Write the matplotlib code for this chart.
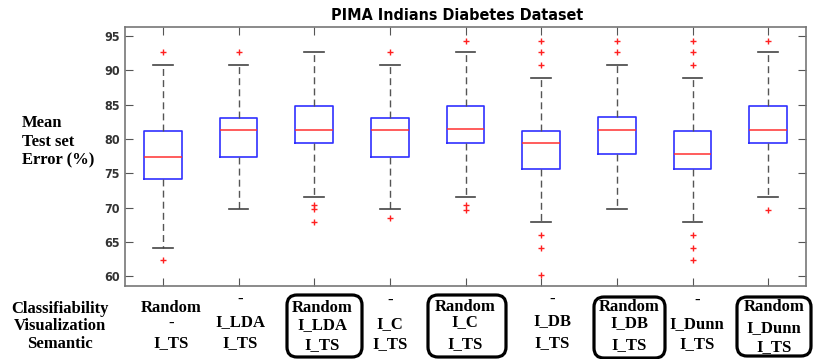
import matplotlib.pyplot as plt
from matplotlib import font_manager
from matplotlib.patches import FancyBboxPatch

# box statistics (mean test set error, %)
q1 = [74.2, 77.4, 79.4, 77.4, 79.4, 75.6, 77.8, 75.6, 79.4]
medians = [77.4, 81.25, 81.25, 81.25, 81.4, 79.4, 81.25, 77.8, 81.25]
q3 = [81.15, 83.1, 84.85, 83.1, 84.85, 81.15, 83.2, 81.15, 84.85]
whis_lo = [64.2, 69.75, 71.6, 69.75, 71.6, 67.9, 69.75, 67.9, 71.6]
whis_hi = [90.78, 90.78, 92.65, 90.78, 92.65, 88.85, 90.78, 88.85, 92.65]
outliers = [
    [92.65, 62.4],
    [92.65],
    [70.4, 69.75, 67.9],
    [92.7, 68.5],
    [94.3, 70.4, 69.65],
    [94.3, 92.65, 90.78, 66.0, 64.1, 60.25],
    [94.3, 92.65],
    [94.3, 92.65, 90.78, 66.0, 64.1, 62.4],
    [94.3, 69.65],
]

# labels under each box
classifiability = ['Random', '-', 'Random', '-', 'Random', '-', 'Random', '-', 'Random']
visualization = ['-', 'I_LDA', 'I_LDA', 'I_C', 'I_C', 'I_DB', 'I_DB', 'I_Dunn', 'I_Dunn']
semantic = ['I_TS'] * 9
highlighted = [2, 4, 6, 8]

# pick a narrow bold sans if one is installed
narrow = None
for f in font_manager.fontManager.ttflist:
    if 'Narrow' in f.name or f.stretch in ('condensed', 'semi-condensed', 600, 500):
        if f.name in ('Liberation Sans Narrow', 'DejaVu Sans', 'Roboto', 'Open Sans'):
            narrow = font_manager.FontProperties(fname=f.fname)
            if 'Bold' in f.fname or f.weight in ('bold', 700):
                break
if narrow is None:
    narrow = font_manager.FontProperties(family='DejaVu Sans', weight='bold')

W, H = 813, 359
fig = plt.figure(figsize=(W / 100, H / 100), dpi=100)
ax = fig.add_axes([125 / W, 1 - 286 / H, 681 / W, 259 / H])

stats = []
for i in range(len(q1)):
    stats.append(dict(q1=q1[i], med=medians[i], q3=q3[i], whislo=whis_lo[i],
                      whishi=whis_hi[i], fliers=outliers[i]))

ax.bxp(stats, positions=range(1, 10), widths=0.5, capwidths=0.26,
       boxprops=dict(color='#3030ff', linewidth=1.2),
       medianprops=dict(color='#ff3030', linewidth=1.1),
       whiskerprops=dict(color='#555555', linewidth=1.0, linestyle=(0, (5, 3))),
       capprops=dict(color='#444444', linewidth=1.2),
       flierprops=dict(marker='+', markeredgecolor='#ff2020', markersize=5,
                       linestyle='none'))

ax.set_xlim(0.5, 9.5)
ax.set_ylim(58.6, 96.3)
ax.set_yticks([60, 65, 70, 75, 80, 85, 90, 95])
ax.set_xticks(range(1, 10))
ax.set_xticklabels([])
ax.tick_params(direction='in', top=True, right=True, length=6,
               color='#555555', labelcolor='#333333')
for lab in ax.get_yticklabels():
    lab.set_fontproperties(narrow)
    lab.set_fontsize(9)
for sp in ax.spines.values():
    sp.set_color('#777777')
    sp.set_linewidth(1.2)

title = ax.set_title('PIMA Indians Diabetes Dataset', x=0.487, pad=5)
title.set_fontproperties(narrow)
title.set_fontsize(11.5)

serif = dict(family='Liberation Serif', fontweight='bold', fontsize=12)

# y-axis label on the left
for txt, y in zip(['Mean', 'Test set', 'Error (%)'], [123, 142, 160]):
    fig.text(22 / W, 1 - y / H, txt, ha='left', va='center', **serif)

# row names of the bottom table
for txt, y in zip(['Classifiability', 'Visualization', 'Semantic'], [309, 326, 344]):
    fig.text(60 / W, 1 - y / H, txt, ha='center', va='center', **serif)

col_x = [171, 240, 322, 390, 465, 552, 629, 697, 774]
col_y = [[308, 324, 343], [300, 322, 343], [308, 325, 345], [301, 324, 344],
         [307, 322, 344], [300, 321, 343], [307, 323, 345], [301, 324, 344],
         [307, 328, 347]]
for i in range(9):
    for txt, y in zip([classifiability[i], visualization[i], semantic[i]], col_y[i]):
        fig.text(col_x[i] / W, 1 - y / H, txt, ha='center', va='center', **serif)

box_px = {2: (287, 295, 362, 357), 4: (428, 295, 506, 357),
          6: (594, 297, 665, 358), 8: (737, 297, 811, 356)}
for i in highlighted:
    x0, y0, x1, y1 = box_px[i]
    fig.patches.append(FancyBboxPatch(
        (x0 / 100, (H - y1) / 100), (x1 - x0) / 100, (y1 - y0) / 100,
        boxstyle='round,pad=0,rounding_size=0.1', fill=False,
        edgecolor='black', linewidth=2.3, transform=fig.dpi_scale_trans,
        figure=fig))

fig.savefig('out.png', dpi=100)
